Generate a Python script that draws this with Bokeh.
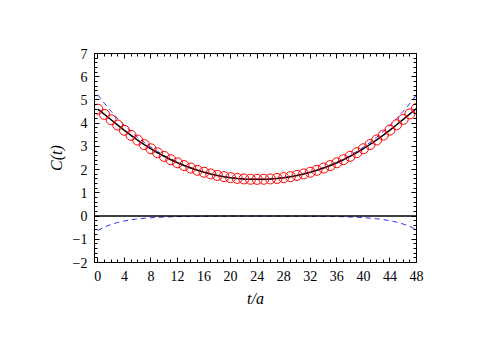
from bokeh.plotting import figure
from bokeh.models import LinearAxis, Range1d, FixedTicker, Span
from bokeh.embed import file_html
from bokeh.resources import INLINE

# time slices
t = list(range(0, 49))

# correlator data C(t) (red circles, black line)
c_data = [4.602, 4.378, 4.148, 3.918, 3.693, 3.477, 3.271, 3.077, 2.896, 2.725,
          2.569, 2.425, 2.294, 2.174, 2.067, 1.971, 1.887, 1.814, 1.750, 1.697,
          1.654, 1.621, 1.598, 1.584, 1.580, 1.584, 1.598, 1.621, 1.654, 1.697,
          1.750, 1.814, 1.887, 1.972, 2.068, 2.175, 2.295, 2.427, 2.571, 2.728,
          2.899, 3.082, 3.277, 3.485, 3.704, 3.932, 4.165, 4.401, 4.632]

# upper blue dashed contribution
c_upper = [5.222, 4.851, 4.509, 4.194, 3.904, 3.638, 3.394, 3.171, 2.967, 2.780,
           2.611, 2.457, 2.318, 2.193, 2.081, 1.982, 1.895, 1.820, 1.755, 1.701,
           1.657, 1.623, 1.599, 1.585, 1.580, 1.585, 1.599, 1.623, 1.657, 1.701,
           1.755, 1.820, 1.895, 1.982, 2.081, 2.193, 2.318, 2.457, 2.611, 2.780,
           2.967, 3.171, 3.394, 3.638, 3.904, 4.194, 4.509, 4.851, 5.222]

# lower blue dashed contribution
c_lower = [-0.620, -0.473, -0.361, -0.276, -0.211, -0.161, -0.123, -0.094, -0.071, -0.055,
           -0.042, -0.032, -0.024, -0.019, -0.014, -0.011, -0.008, -0.006, -0.005, -0.004,
           -0.003, -0.002, -0.001, -0.001, 0.000, -0.001, -0.001, -0.002, -0.003, -0.004,
           -0.005, -0.006, -0.008, -0.010, -0.013, -0.018, -0.023, -0.030, -0.040, -0.052,
           -0.068, -0.089, -0.117, -0.153, -0.200, -0.262, -0.344, -0.450, -0.590]

x_ticks = [0, 4, 8, 12, 16, 20, 24, 28, 32, 36, 40, 44, 48]
y_ticks = [-2, -1, 0, 1, 2, 3, 4, 5, 6, 7]

FONT = "Liberation Serif"

p = figure(width=483, height=336, x_range=Range1d(-0.5, 48), y_range=Range1d(-2, 7),
           output_backend="svg", toolbar_location=None,
           min_border_left=94, min_border_right=67, min_border_top=53, min_border_bottom=74,
           x_axis_label="t/a", y_axis_label="C(t)")
p.xgrid.visible = False
p.ygrid.visible = False
p.outline_line_color = "black"
p.outline_line_width = 1
p.background_fill_color = "white"
p.border_fill_color = "white"

x_minor = [i for i in range(0, 49)]
y_minor = [round(-2 + 0.2 * i, 2) for i in range(0, 46)]

xt = FixedTicker(ticks=x_ticks, minor_ticks=x_minor)
yt = FixedTicker(ticks=y_ticks, minor_ticks=y_minor)

def style(ax, labels=True):
    ax.axis_line_color = "black"
    ax.major_tick_in = 5
    ax.major_tick_out = 0
    ax.minor_tick_in = 3
    ax.minor_tick_out = 0
    ax.major_tick_line_color = "black"
    ax.minor_tick_line_color = "black"
    ax.major_label_text_font = FONT
    ax.major_label_text_font_size = "14px"
    ax.major_label_text_color = "black"
    if not labels:
        ax.major_label_text_alpha = 0
        ax.major_label_text_font_size = "1px"

p.xaxis.ticker = xt
p.yaxis.ticker = yt
style(p.xaxis[0])
style(p.yaxis[0])
p.xaxis.major_label_standoff = 8
p.yaxis.major_label_standoff = 7
p.xaxis.axis_label_text_font = FONT
p.yaxis.axis_label_text_font = FONT
p.xaxis.axis_label_text_font_style = "italic"
p.yaxis.axis_label_text_font_style = "italic"
p.xaxis.axis_label_text_font_size = "16px"
p.yaxis.axis_label_text_font_size = "16px"
p.xaxis.axis_label_text_color = "black"
p.yaxis.axis_label_text_color = "black"
p.xaxis.axis_label_standoff = 6
p.yaxis.axis_label_standoff = 5

top = LinearAxis(ticker=FixedTicker(ticks=x_ticks, minor_ticks=x_minor))
style(top, labels=False)
p.add_layout(top, "above")
right = LinearAxis(ticker=FixedTicker(ticks=y_ticks, minor_ticks=y_minor))
style(right, labels=False)
p.add_layout(right, "right")

# zero line
p.add_layout(Span(location=0, dimension="width", line_color="black", line_width=1.5))

# blue dashed contributions
p.line(t, c_upper, line_color="#2b2bff", line_width=1, line_dash="5 4")
p.line(t, c_lower, line_color="#2b2bff", line_width=1, line_dash="5 4")

# black curve through data
p.line(t, c_data, line_color="black", line_width=1.5)

# red circles
p.scatter(t, c_data, marker="circle", size=10, fill_color=None, line_color="red", line_width=1)

open("out.html", "w").write(file_html(p, INLINE))
